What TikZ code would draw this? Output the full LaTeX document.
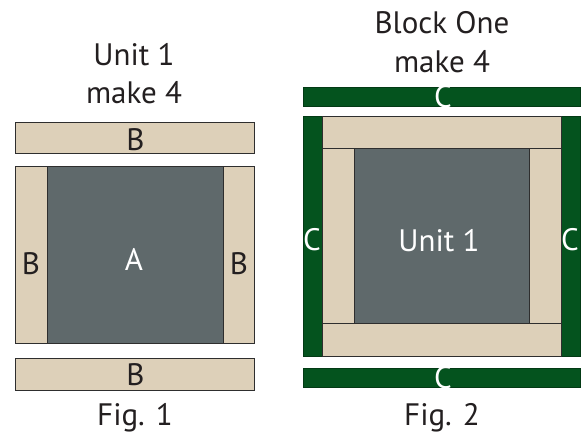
\documentclass[tikz,border=0pt]{standalone}
\usepackage{fontspec}
\setmainfont{PT Sans}
\definecolor{tan}{HTML}{DDD0B9}
\definecolor{slate}{HTML}{5F696B}
\definecolor{forest}{HTML}{04531E}
\definecolor{edge}{HTML}{2E2E2E}
\definecolor{ink}{HTML}{231F20}
\tikzset{
  piece/.style={draw=edge, line width=0.9pt, inner sep=0pt, outer sep=0pt, anchor=north west},
  tanpc/.style={piece, fill=tan},
  slatepc/.style={piece, fill=slate},
  greenpc/.style={piece, fill=forest, draw=forest!70!black},
  darklbl/.style={text=ink, inner sep=0pt, font=\fontsize{31}{36}\selectfont},
  whitelbl/.style={text=white, inner sep=0pt, font=\fontsize{31}{36}\selectfont},
  title/.style={text=ink, inner sep=0pt, anchor=base, font=\fontsize{31}{37}\selectfont},
}
\begin{document}
\begin{tikzpicture}[x=1pt,y=-1pt]
\useasboundingbox[fill=white] (0,0) rectangle (587,434);
% ---------- Fig. 1 ----------
\node[title] (t1a) at (134,65) {Unit 1};
\node[title] (t1b) at (134,103) {make 4};
\node[tanpc, minimum width=239pt, minimum height=31pt] (btop) at (15,122) {};
\node[tanpc, minimum width=32pt, minimum height=177pt] (bleft) at (15,166) {};
\node[slatepc, minimum width=176pt, minimum height=177pt] (asq) at (47,166) {};
\node[tanpc, minimum width=31pt, minimum height=177pt] (bright) at (223,166) {};
\node[tanpc, minimum width=239pt, minimum height=32pt] (bbot) at (15,358) {};
\node[darklbl] (lbtop) at (135.5,140) {B};
\node[darklbl] (lbleft) at (31,263.5) {B};
\node[whitelbl] (la) at (134,259.5) {A};
\node[darklbl] (lbright) at (239,263.5) {B};
\node[darklbl] (lbbot) at (135.5,375) {B};
\node[title] (f1) at (135,425) {Fig. 1};
% ---------- Fig. 2 ----------
\node[title] (t2a) at (442,33) {Block One};
\node[title] (t2b) at (442,72) {make 4};
\node[greenpc, minimum width=277pt, minimum height=19pt] (ctop) at (303,87) {};
\node[greenpc, minimum width=19pt, minimum height=240pt] (cleft) at (303,116) {};
\node[greenpc, minimum width=19pt, minimum height=240pt] (cright) at (561,116) {};
\node[tanpc, minimum width=239pt, minimum height=32pt] (b2top) at (322,116) {};
\node[tanpc, minimum width=32pt, minimum height=175pt] (b2left) at (322,148) {};
\node[slatepc, minimum width=175pt, minimum height=175pt] (unit) at (354,148) {};
\node[tanpc, minimum width=32pt, minimum height=175pt] (b2right) at (529,148) {};
\node[tanpc, minimum width=239pt, minimum height=33pt] (b2bot) at (322,323) {};
\node[greenpc, minimum width=277pt, minimum height=19pt] (cbot) at (303,368) {};
\node[whitelbl] (lctop) at (443,97) {C};
\node[whitelbl] (lcleft) at (312,239.5) {C};
\node[whitelbl] (lunit) at (439,241) {Unit 1};
\node[whitelbl] (lcright) at (570,239.5) {C};
\node[whitelbl] (lcbot) at (443,378) {C};
\node[title] (f2) at (442,425) {Fig. 2};
\end{tikzpicture}
\end{document}
